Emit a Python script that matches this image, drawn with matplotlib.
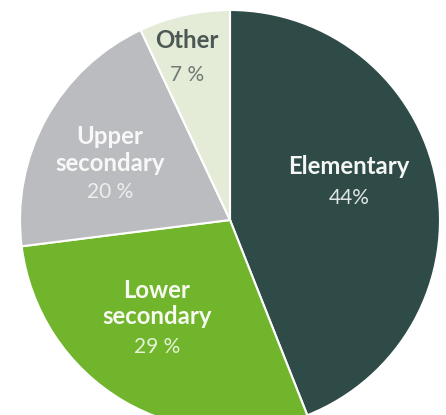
import matplotlib.pyplot as plt

# data
categories = ["Elementary", "Lower\nsecondary", "Upper\nsecondary", "Other"]
shares = [44, 29, 20, 7]
pct_labels = ["44%", "29 %", "20 %", "7 %"]

colors = ["#2f4b48", "#70b52b", "#bbbcbf", "#e4ecd8"]
name_colors = ["#f4f6f4", "#f6faf0", "#f8f8f8", "#4b5853"]
pct_colors = ["#dfe6e3", "#e6f2d6", "#eeeeee", "#6f7a74"]

# label centre x and y of first line, pct y (pixels from top-left)
label_x = [349, 157, 110, 187]
label_y = [167, 290, 137, 40]
pct_y = [198, 347, 192, 75]

W, H = 446, 415
fig = plt.figure(figsize=(W / 100, H / 100), dpi=100)
ax = fig.add_axes([0, 0, 1, 1])

cx, cy, r = 230, 220, 210
ax.pie(shares, colors=colors, startangle=90, counterclock=False,
       center=(cx, H - cy), radius=r,
       wedgeprops=dict(edgecolor="white", linewidth=1.5))
ax.set_xlim(0, W)
ax.set_ylim(0, H)
ax.set_aspect("equal")
ax.axis("off")

font = ["Lato", "DejaVu Sans"]
line_h = 27
for name, pct, x, y, py, nc, pc in zip(categories, pct_labels, label_x, label_y,
                                       pct_y, name_colors, pct_colors):
    for i, ln in enumerate(name.split("\n")):
        ax.text(x, H - (y + i * line_h), ln, ha="center", va="center",
                fontsize=17.2, fontweight="bold", color=nc, family=font)
    ax.text(x, H - py, pct, ha="center", va="center",
            fontsize=15, color=pc, family=font)

plt.savefig("out.png", dpi=100, facecolor="white")
